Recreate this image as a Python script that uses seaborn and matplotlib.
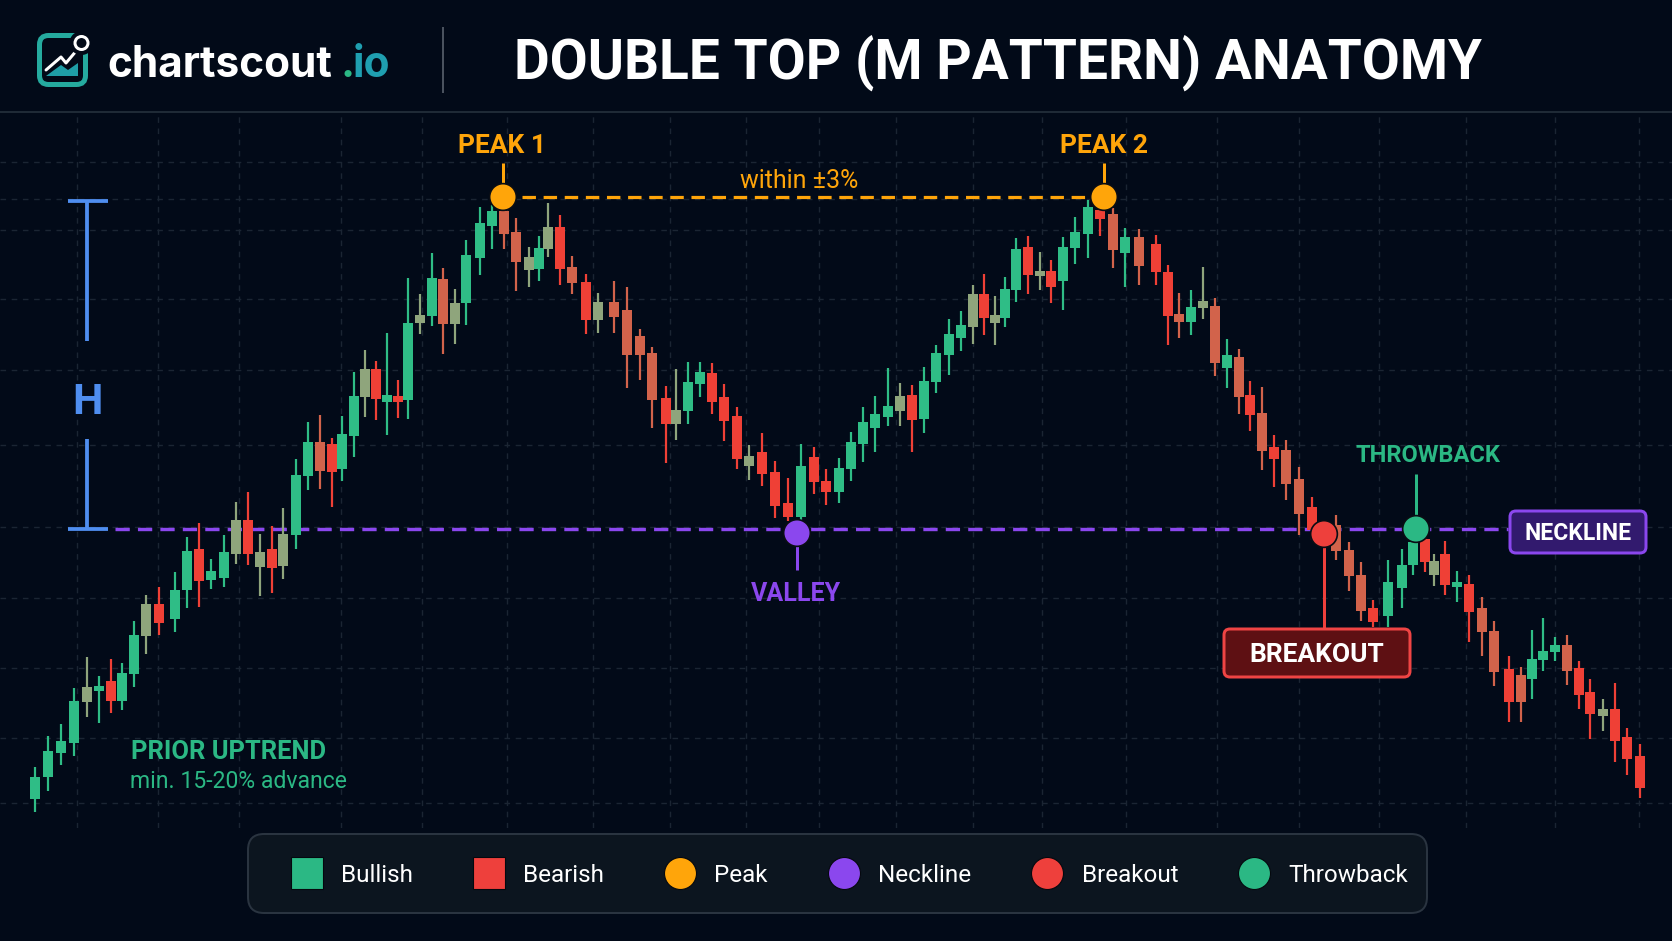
import matplotlib
matplotlib.use("Agg")
import matplotlib.pyplot as plt
import numpy as np
import pandas as pd
import seaborn as sns
from matplotlib.lines import Line2D
from matplotlib.patches import Circle, FancyBboxPatch, Polygon

# candle data
times = [35, 48, 61, 74, 87, 99, 111, 122, 134, 146,
         159, 175, 187, 199, 211, 224, 236, 248, 260, 272,
         283, 296, 308, 320, 332, 342, 354, 365, 376, 387,
         398, 408, 420, 432, 443, 455, 466, 480, 492, 504,
         516, 529, 539, 548, 560, 572, 586, 598, 614, 627,
         640, 652, 666, 676, 688, 700, 712, 724, 737, 749,
         762, 775, 788, 801, 814, 826, 839, 851, 863, 875,
         888, 900, 912, 924, 936, 949, 961, 973, 984, 995,
         1005, 1016, 1028, 1040, 1051, 1063, 1075, 1088, 1100, 1113,
         1125, 1139, 1156, 1168, 1179, 1191, 1203, 1215, 1227, 1239,
         1250, 1262, 1274, 1286, 1299, 1312, 1336, 1349, 1361, 1373,
         1388, 1402, 1413, 1425, 1434, 1445, 1457, 1469, 1482, 1494,
         1509, 1521, 1532, 1543, 1555, 1567, 1579, 1590, 1603, 1615,
         1627, 1640]
highs = [174, 205, 217, 253, 284, 265, 282, 278, 320, 346,
         354, 369, 404, 418, 382, 406, 439, 449, 407, 415,
         433, 482, 519, 526, 503, 525, 569, 591, 580, 608,
         561, 663, 647, 688, 673, 652, 701, 734, 736, 738,
         723, 694, 705, 738, 726, 685, 667, 648, 660, 654,
         612, 594, 555, 572, 579, 579, 578, 557, 534, 496,
         508, 480, 463, 497, 494, 472, 483, 509, 534, 545,
         573, 558, 556, 574, 596, 622, 630, 656, 667, 645,
         664, 703, 705, 689, 681, 704, 724, 741, 738, 733,
         713, 712, 706, 676, 648, 651, 674, 643, 602, 592,
         560, 554, 506, 501, 474, 444, 426, 399, 379, 341,
         381, 392, 401, 403, 387, 400, 370, 366, 344, 320,
         285, 274, 311, 323, 304, 306, 280, 262, 242, 258,
         213, 197]
body_tops = [164, 190, 200, 240, 254, 255, 260, 268, 306, 337,
             337, 351, 390, 392, 370, 389, 421, 421, 389, 392,
             407, 466, 499, 499, 497, 507, 545, 572, 572, 546,
             545, 618, 626, 663, 662, 638, 686, 718, 730, 730,
             709, 684, 693, 714, 714, 674, 659, 639, 639, 631,
             605, 588, 543, 531, 559, 569, 568, 544, 525, 485,
             489, 469, 438, 475, 484, 460, 473, 499, 519, 527,
             535, 545, 546, 560, 588, 607, 616, 647, 647, 626,
             652, 692, 694, 670, 670, 694, 709, 734, 731, 727,
             704, 704, 697, 669, 627, 634, 640, 635, 586, 584,
             546, 528, 494, 491, 462, 434, 416, 391, 366, 333,
             359, 376, 399, 402, 380, 387, 359, 357, 333, 310,
             272, 266, 282, 290, 296, 296, 273, 249, 232, 232,
             204, 185]
body_bottoms = [142, 164, 188, 198, 239, 250, 240, 240, 267, 305,
                318, 322, 351, 360, 361, 363, 387, 387, 374, 373,
                375, 406, 465, 470, 469, 472, 505, 544, 542, 539,
                539, 541, 618, 625, 617, 617, 638, 683, 715, 707,
                679, 671, 672, 692, 672, 658, 621, 621, 624, 586,
                586, 541, 517, 517, 530, 557, 539, 520, 482, 475,
                467, 435, 424, 424, 459, 449, 449, 472, 497, 513,
                524, 530, 521, 522, 559, 586, 603, 614, 623, 618,
                623, 651, 666, 665, 654, 660, 693, 707, 722, 691,
                688, 675, 669, 625, 619, 619, 633, 578, 573, 544,
                526, 490, 482, 457, 427, 411, 390, 365, 330, 319,
                325, 353, 376, 379, 366, 356, 354, 329, 309, 269,
                239, 239, 262, 281, 289, 270, 246, 227, 225, 200,
                182, 153]
lows = [129, 150, 176, 185, 224, 218, 228, 231, 254, 287,
        306, 309, 333, 334, 352, 354, 377, 376, 345, 348,
        362, 392, 451, 452, 434, 460, 484, 524, 521, 506,
        523, 522, 607, 615, 587, 597, 616, 666, 692, 692,
        650, 654, 660, 684, 656, 647, 607, 608, 608, 553,
        561, 513, 478, 501, 517, 544, 527, 500, 472, 461,
        455, 423, 420, 421, 447, 436, 438, 460, 479, 489,
        515, 515, 489, 508, 548, 566, 590, 597, 606, 596,
        614, 639, 647, 651, 638, 631, 677, 683, 705, 673,
        654, 656, 656, 596, 603, 606, 622, 565, 553, 527,
        510, 471, 454, 441, 406, 401, 381, 350, 320, 314,
        314, 333, 366, 369, 355, 346, 339, 299, 285, 255,
        219, 219, 242, 270, 280, 256, 232, 202, 210, 179,
        166, 143]
tones = list("ggggtgrggt" "rggrggtrtr" "tggorggtrg" "rgtgotgggo" "otgtrortoo"
             "oortggrrrt" "rrrgrrgggg" "gtrggggtrt" "ggrtrgggro" "gorrogtogo"
             "roroorooor" "gggrtrgroo" "rogggorrtr" "rr")

# pattern points and levels
point_names = ["Peak 1", "Peak 2", "Valley", "Breakout", "Throwback"]
point_times = [503, 1104, 797, 1324, 1416]
point_prices = [744, 744, 408, 407, 412]
neckline_price = 412
peak_price = 744
h_top_price = 740

grid_times = [77, 158, 239, 341, 422, 507, 593, 670, 746, 819,
              896, 973, 1042, 1126, 1217, 1299, 1379, 1466, 1555, 1639]
grid_prices = [138, 203, 273, 343, 414, 496, 571, 642, 711, 742, 779]

legend_labels = ["Bullish", "Bearish", "Peak", "Neckline", "Breakout", "Throwback"]

BG = "#020a18"
GREEN = "#2bb884"
RED = "#ee403c"
ORANGE = "#ffa50a"
PURPLE = "#8b47ee"
BLUE = "#4f8ef0"
tone_colors = {"g": "#2fbd86", "r": "#ef4036", "o": "#d2634b", "t": "#8fa57c"}

PX = 0.72  # one pixel in points at dpi 100

sns.set_theme(style="dark", rc={"figure.facecolor": BG, "axes.facecolor": BG,
                                "savefig.facecolor": BG})
plt.rcParams["font.family"] = ["Roboto", "DejaVu Sans"]

fig = plt.figure(figsize=(16.72, 9.41), dpi=100)

# price chart, from under the header down to just above the legend
ax = fig.add_axes([0, 113 / 941, 1, 712 / 941])
ax.set_xlim(0, 1672)
ax.set_ylim(113, 825)
ax.set_xticks(grid_times)
ax.set_yticks(grid_prices)
ax.tick_params(length=0, labelbottom=False, labelleft=False)
ax.grid(True, color="#1b2533", lw=1.4 * PX, ls=(0, (4, 4)))
ax.set_axisbelow(True)
sns.despine(ax=ax, left=True, bottom=True)

df = pd.DataFrame({"time": times, "high": highs, "top": body_tops,
                   "bottom": body_bottoms, "low": lows, "tone": tones})
df["color"] = df["tone"].map(tone_colors)

ax.hlines(neckline_price, 115, 1508, color=PURPLE, lw=3.4 * PX,
          linestyles=[(0, (4.2, 2.4))], zorder=1.5)
ax.vlines(df["time"], df["low"], df["high"], colors=df["color"], lw=2.2 * PX, zorder=2)
ax.bar(df["time"], df["top"] - df["bottom"], bottom=df["bottom"], width=9.5,
       color=df["color"], edgecolor="none", linewidth=0, zorder=3)

# peak level and the H bracket
ax.hlines(peak_price, 522, 1088, color=ORANGE, lw=3.2 * PX,
          linestyles=[(0, (4.2, 2.4))], zorder=4)
for y0, y1 in [(h_top_price, 600), (502, neckline_price)]:
    ax.vlines(87, y1, y0, color=BLUE, lw=3.8 * PX, zorder=4)
ax.hlines([h_top_price, neckline_price], 68, 108, color=BLUE, lw=3.8 * PX, zorder=4)
ax.text(87, 538, "H", color=BLUE, fontsize=31, fontweight="bold",
        ha="center", va="center")

# stems joining markers and labels
ax.vlines(503, 744, 778, color=ORANGE, lw=3 * PX, zorder=4)
ax.vlines(1104, 744, 778, color=ORANGE, lw=3 * PX, zorder=4)
ax.vlines(797, 371, 408, color=PURPLE, lw=3 * PX, zorder=4)
ax.vlines(1324, 313, 407, color=RED, lw=3 * PX, zorder=4)
ax.vlines(1416, 412, 467, color=GREEN, lw=3 * PX, zorder=4)

points = pd.DataFrame({"name": point_names, "time": point_times, "price": point_prices})
sns.scatterplot(data=points, x="time", y="price", hue="name",
                palette=[ORANGE, ORANGE, PURPLE, RED, GREEN], s=370,
                edgecolor="#0a0d14", linewidth=1.2, legend=False, ax=ax, zorder=6)
ax.set_xlabel("")
ax.set_ylabel("")

label_kw = dict(fontweight="bold", ha="center", va="center", zorder=7)
ax.text(502, 795, "PEAK 1", color=ORANGE, fontsize=19, **label_kw)
ax.text(1104, 795, "PEAK 2", color=ORANGE, fontsize=19, **label_kw)
ax.text(796, 347, "VALLEY", color=PURPLE, fontsize=18, **label_kw)
ax.text(1428, 485, "THROWBACK", color=GREEN, fontsize=17, **label_kw)
ax.text(799, 760, "within ±3%", color=ORANGE, fontsize=18, ha="center", va="center")
ax.text(131, 189, "PRIOR UPTREND", color=GREEN, fontsize=18.4, fontweight="bold",
        ha="left", va="center")
ax.text(130, 160, "min. 15-20% advance", color=GREEN, fontsize=16.6, ha="left", va="center")

# header, logo, boxes and legend go on a pixel overlay
top = fig.add_axes([0, 0, 1, 1], facecolor="none")
top.set_xlim(0, 1672)
top.set_ylim(941, 0)
top.axis("off")

top.hlines(112, 0, 1672, color="#1f2a36", lw=2 * PX)
top.vlines(443, 27, 93, color="#4a525e", lw=2 * PX)
top.text(514, 63, "DOUBLE TOP (M PATTERN) ANATOMY", color="white", fontsize=39.6,
         fontweight="bold", ha="left", va="center")

top.add_patch(FancyBboxPatch((39.5, 35.5), 46, 49, boxstyle="round,pad=0,rounding_size=9",
                             fc="none", ec="#25ab9f", lw=5 * PX))
top.add_patch(Circle((81.5, 43), 12, fc=BG, ec="none", zorder=3))
top.add_patch(Circle((81.5, 43), 6.5, fc="none", ec="white", lw=3 * PX, zorder=4))
top.add_patch(Polygon([(46, 76), (61, 65), (68, 70), (78, 63), (78, 76)], fc="#1f9fa8", ec="none"))
top.plot([46, 61, 66, 77], [70, 57, 63, 50], color="white", lw=3 * PX)
logo_kw = dict(fontsize=30.5, fontweight="bold", family=["Inter", "Roboto"], va="baseline")
top.text(107, 77, "chartscout", color="white", **logo_kw)
top.text(340, 77, ".", color=GREEN, **logo_kw)
top.text(353, 77, "io", color="#1f9fb0", **logo_kw)

# breakout and neckline tags
top.add_patch(FancyBboxPatch((1224, 629), 186, 48, boxstyle="round,pad=0,rounding_size=6",
                             fc="#5e1013", ec="#ef4444", lw=3 * PX, zorder=5))
top.text(1317, 655, "BREAKOUT", color="white", fontsize=19, fontweight="bold",
         ha="center", va="center", zorder=6)
top.add_patch(FancyBboxPatch((1510, 511), 136, 42, boxstyle="round,pad=0,rounding_size=6",
                             fc="#321a6e", ec=PURPLE, lw=3 * PX, zorder=5))
top.text(1578, 533, "NECKLINE", color="white", fontsize=16.5, fontweight="bold",
         ha="center", va="center", zorder=6)

# legend
top.add_patch(FancyBboxPatch((248, 834), 1179, 79, boxstyle="round,pad=0,rounding_size=16",
                             fc="#0c151f", ec="#2a3440", lw=2 * PX))
handle_specs = [("s", GREEN), ("s", RED), ("o", ORANGE), ("o", PURPLE), ("o", RED), ("o", GREEN)]
handles = [Line2D([], [], marker=m, color=c, ls="none", ms=32 * PX, mec="#05080e", mew=0.8)
           for m, c in handle_specs]
top.legend(handles, legend_labels, loc="center left", bbox_to_anchor=(290, 875),
           bbox_transform=top.transData, ncols=6, frameon=False, fontsize=17.5,
           labelcolor="white", handlelength=1.36, handletextpad=0.74, columnspacing=2.44,
           borderpad=0, borderaxespad=0)

fig.savefig("out.png", dpi=100)
